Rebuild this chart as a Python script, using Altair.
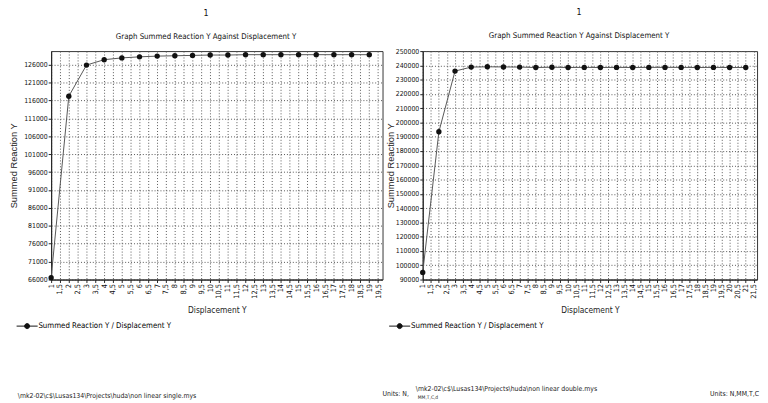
import altair as alt
import pandas as pd

SERIES = "Summed Reaction Y / Displacement Y"
GRAPH_TITLE = "Graph Summed Reaction Y Against Displacement Y"
PAGE_NO = "1"

left_x = [1, 2, 3, 4, 5, 6, 7, 8, 9, 10, 11, 12, 13, 14, 15, 16, 17, 18, 19]
left_y = [66500, 117200, 125900, 127400, 127900, 128200, 128400, 128500, 128600,
          128700, 128700, 128800, 128800, 128800, 128800, 128800, 128800, 128800, 128800]

right_x = [1, 2, 3, 4, 5, 6, 7, 8, 9, 10, 11, 12, 13, 14, 15, 16, 17, 18, 19, 20, 21]
right_y = [95000, 193500, 236000, 238800, 239000, 238900, 238800, 238500, 238700,
           238500, 238600, 238500, 238600, 238500, 238600, 238600, 238600, 238500,
           238600, 238500, 238500]

left_xticks = [1, 1.5, 2, 2.5, 3, 3.5, 4, 4.5, 5, 5.5, 6, 6.5, 7, 7.5, 8, 8.5, 9, 9.5,
               10, 10.5, 11, 11.5, 12, 12.5, 13, 13.5, 14, 14.5, 15, 15.5, 16, 16.5,
               17, 17.5, 18, 18.5, 19, 19.5]
right_xticks = [1, 1.5, 2, 2.5, 3, 3.5, 4, 4.5, 5, 5.5, 6, 6.5, 7, 7.5, 8, 8.5, 9, 9.5,
                10, 10.5, 11, 11.5, 12, 12.5, 13, 13.5, 14, 14.5, 15, 15.5, 16, 16.5,
                17, 17.5, 18, 18.5, 19, 19.5, 20, 20.5, 21, 21.5]
left_yticks = [66000, 71000, 76000, 81000, 86000, 91000, 96000, 101000, 106000,
               111000, 116000, 121000, 126000]
right_yticks = [90000, 100000, 110000, 120000, 130000, 140000, 150000, 160000, 170000,
                180000, 190000, 200000, 210000, 220000, 230000, 240000, 250000]

left_path = "\\mk2-02\\c$\\Lusas134\\Projects\\huda\\non linear single.mys"
right_path = "\\mk2-02\\c$\\Lusas134\\Projects\\huda\\non linear double.mys"
units_short = "Units: N,"
units_tail = "MM,T,C,d"
units_full = "Units: N,MM,T,C"

FONT = "Liberation Sans Narrow, Arial Narrow, DejaVu Sans Condensed, sans-serif"
H = 233

SYMBOL = "M-1.6,0H1.6M0,-0.38A0.38,0.38 0 1,1 0,0.38A0.38,0.38 0 1,1 0,-0.38Z"


def text_layer(txt, x, y, size=7, align="left"):
    return alt.Chart(pd.DataFrame({"t": [txt]})).mark_text(
        align=align, baseline="alphabetic", fontSize=size, font=FONT, color="#222"
    ).encode(x=alt.value(x), y=alt.value(y), text="t:N")


def panel(xs, ys, xticks, yticks, xdom, ydom, width, legend_x, ytitle_pad,
          title_offset, title_dx, texts):
    df = pd.DataFrame({"x": xs, "y": ys, "series": [SERIES] * len(xs)})
    X = alt.X("x:Q", scale=alt.Scale(domain=xdom, nice=False, zero=False),
              axis=alt.Axis(values=xticks, title="Displacement Y", labelAngle=-90,
                            format=".1~f", labelExpr="replace(datum.label, '.', ',')",
                            labelOverlap=False, labelFontSize=7.5, titlePadding=8))
    Y = alt.Y("y:Q", scale=alt.Scale(domain=ydom, nice=False, zero=False),
              axis=alt.Axis(values=yticks, title="Summed Reaction Y", format="d",
                            labelOverlap=False, labelFontSize=7,
                            titlePadding=ytitle_pad))
    base = alt.Chart(df)
    line = base.mark_line(color="#555", strokeWidth=1).encode(X, Y)
    pts = base.mark_point(filled=True, size=30, opacity=1, shape="circle").encode(
        X, Y,
        color=alt.Color("series:N", scale=alt.Scale(range=["#111"]),
                        legend=alt.Legend(title=None, orient="none",
                                          legendX=legend_x, legendY=H + 40,
                                          symbolType=SYMBOL, symbolSize=180,
                                          symbolStrokeColor="#111",
                                          symbolFillColor="#111",
                                          symbolStrokeWidth=1,
                                          labelFontSize=8, labelFont=FONT)))
    layers = [line, pts] + [text_layer(*t) for t in texts]
    return alt.layer(*layers).properties(
        width=width, height=H,
        title=alt.Title(PAGE_NO, subtitle=GRAPH_TITLE, offset=title_offset, dx=title_dx))


left = panel(left_x, left_y, left_xticks, left_yticks, [1, 19.75], [66000, 129800], 338,
             -32, 5, 10, -11, [(left_path, -34, H + 121), (units_short, 338, H + 119)])
right = panel(right_x, right_y, right_xticks, right_yticks, [1, 21.7], [90000, 250000], 341,
              -31, 0, 7, -11, [(right_path, -7, H + 114), (units_tail, -5, H + 122, 5),
                               (units_full, 343, H + 119, 7, "right")])

chart = alt.hconcat(left, right, spacing=41, bounds="flush").resolve_scale(
    color="independent").resolve_legend(color="independent").properties(
    padding={"top": -5, "left": 0, "right": 0, "bottom": 0}).configure(font=FONT).configure_axis(
    labelFont=FONT, labelFontSize=8, labelColor="#111",
    titleFont="Liberation Sans, Arial, sans-serif",
    titleFontSize=9.5, titleFontWeight="normal", titleColor="#222",
    gridDash=[1, 2], gridColor="#555", gridOpacity=1, domainColor="#222",
    tickColor="#222", tickSize=3, labelPadding=1
).configure_axisX(titleFont=FONT, titleFontSize=8.5).configure_view(
    stroke="#333", strokeWidth=1
).configure_title(
    font=FONT, fontSize=9, fontWeight="normal", color="#111",
    subtitleFont=FONT, subtitleFontSize=8, subtitleColor="#111",
    anchor="middle", subtitlePadding=16
)

chart.save("out.html", embed_options={"renderer": "svg", "actions": False})
